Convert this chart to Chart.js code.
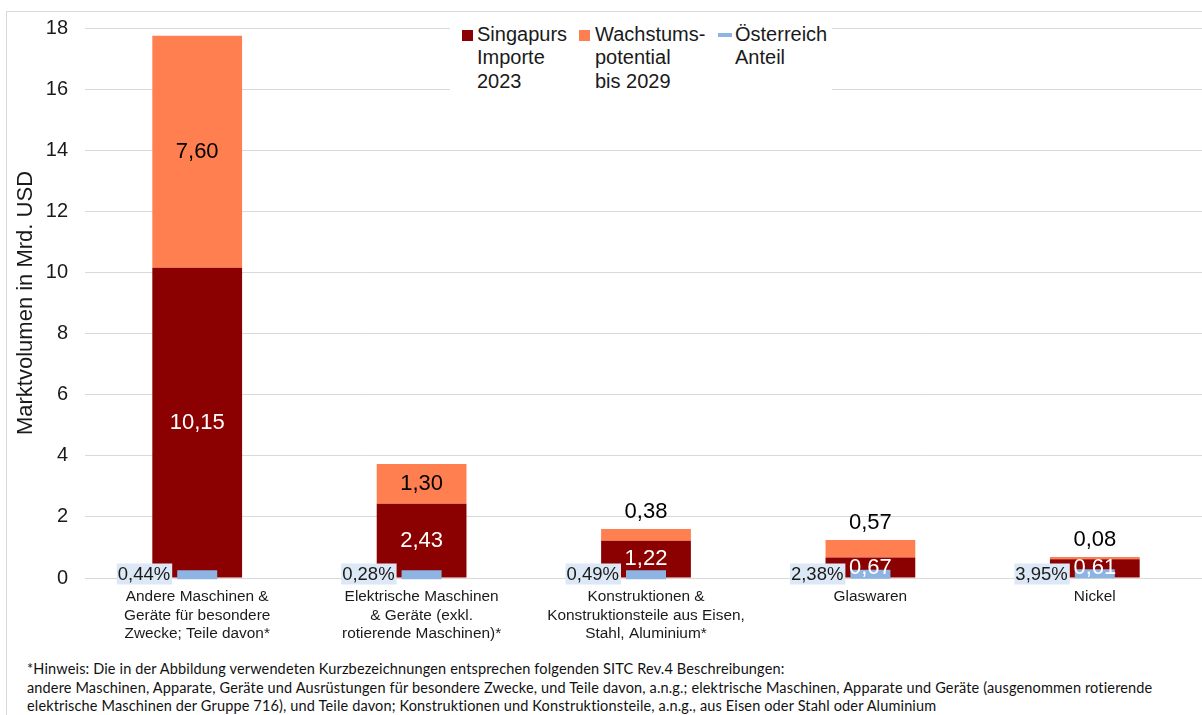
<!DOCTYPE html>
<html lang="de">
<head>
<meta charset="utf-8">
<title>Marktvolumen Singapur</title>
<script src="https://cdn.jsdelivr.net/npm/chart.js@4.4.1/dist/chart.umd.min.js"></script>
<style>
  html, body { margin: 0; padding: 0; background: #fff; overflow: hidden; }
  body { width: 1202px; height: 715px; position: relative; font-family: "Liberation Sans", Arial, sans-serif; color: #1a1a1a; }
  #frame { position: absolute; left: 6px; top: 11px; width: 1300px; height: 800px; border-left: 1px solid #d9d9d9; border-top: 1px solid #d9d9d9; }
  /* Canvas etwas breiter: die Linien-Marker (Radius 20) reservieren Rand */
  #marketChart { position: absolute; left: 0; top: -1px; width: 1236px; height: 656px; }
  #legend { position: absolute; left: 450px; top: 18px; width: 382px; height: 79px; background: #fff; }
  .lg-item { position: absolute; top: 5px; font-size: 20px; line-height: 23.3px; white-space: nowrap; }
  .lg-mark { position: absolute; }
  #note { position: absolute; left: 27px; top: 660px; font-family: Lato, "Open Sans", sans-serif; font-size: 14.5px; letter-spacing: 0.15px; line-height: 18.5px; color: #111; white-space: nowrap; }
</style>
</head>
<body>
<div id="frame"></div>
<canvas id="marketChart" width="1236" height="656"></canvas>
<div id="legend"></div>
<div id="note">
  *Hinweis: Die in der Abbildung verwendeten Kurzbezeichnungen entsprechen folgenden SITC Rev.4 Beschreibungen:<br>
  andere Maschinen, Apparate, Geräte und Ausrüstungen für besondere Zwecke, und Teile davon, a.n.g.; elektrische Maschinen, Apparate und Geräte (ausgenommen rotierende<br>
  elektrische Maschinen der Gruppe 716), und Teile davon; Konstruktionen und Konstruktionsteile, a.n.g., aus Eisen oder Stahl oder Aluminium
</div>
<script>
// Daten (Mrd. USD)
const categories = [
  ["Andere Maschinen &", "Geräte für besondere", "Zwecke; Teile davon*"],
  ["Elektrische Maschinen", "& Geräte (exkl.", "rotierende Maschinen)*"],
  ["Konstruktionen &", "Konstruktionsteile aus Eisen,", "Stahl, Aluminium*"],
  "Glaswaren",
  "Nickel",
];
const importe2023 = [10.15, 2.43, 1.22, 0.67, 0.61];
const wachstum2029 = [7.60, 1.30, 0.38, 0.57, 0.08];
const anteilAT = [0.0044, 0.0028, 0.0049, 0.0238, 0.0395];
const yTicks = [0, 2, 4, 6, 8, 10, 12, 14, 16, 18];

const colors = {
  importe: "#8b0000",
  wachstum: "#ff7f50",
  at: "#8db4e2",
  atLabelBg: "#dce8f5",
  grid: "#d9d9d9",
  text: "#1a1a1a",
};
const fontFamily = '"Liberation Sans", Arial, sans-serif';

const fmt = v => v.toFixed(2).replace(".", ",");
const pct = v => (v * 100).toFixed(2).replace(".", ",") + "%";

// Beschriftungen der Balken + Prozentwerte
const valueLabels = {
  id: "valueLabels",
  afterDatasetsDraw(chart) {
    const ctx = chart.ctx;
    ctx.save();
    ctx.textAlign = "center";
    ctx.textBaseline = "middle";
    ctx.font = "22px " + fontFamily;

    chart.getDatasetMeta(0).data.forEach((bar, i) => {
      ctx.fillStyle = "#ffffff";
      ctx.fillText(fmt(importe2023[i]), bar.x, (bar.y + bar.base) / 2);
    });

    chart.getDatasetMeta(1).data.forEach((bar, i) => {
      const h = bar.base - bar.y;
      // kleine Segmente: Wert über dem Balken
      const y = h > 30 ? (bar.y + bar.base) / 2 : bar.y - 17;
      ctx.fillStyle = "#000000";
      ctx.fillText(fmt(wachstum2029[i]), bar.x, y);
    });

    ctx.font = "18.5px " + fontFamily;
    ctx.textAlign = "right";
    chart.getDatasetMeta(2).data.forEach((pt, i) => {
      const text = pct(anteilAT[i]);
      const w = ctx.measureText(text).width;
      const right = pt.x - 27;
      const cy = chart.chartArea.bottom - 4;
      ctx.fillStyle = colors.atLabelBg;
      ctx.fillRect(right - w - 1, cy - 10.5, w + 3, 21);
      ctx.fillStyle = colors.text;
      ctx.fillText(text, right, cy + 1);
    });
    ctx.restore();
  },
};

const datasets = [
  {
    type: "bar",
    label: "Singapurs Importe 2023",
    legendText: ["Singapurs", "Importe", "2023"],
    data: importe2023,
    backgroundColor: colors.importe,
    stack: "main",
    order: 1,
    barPercentage: 0.4,
    categoryPercentage: 1,
  },
  {
    type: "bar",
    label: "Wachstumspotential bis 2029",
    legendText: ["Wachstums-", "potential", "bis 2029"],
    data: wachstum2029,
    backgroundColor: colors.wachstum,
    stack: "main",
    order: 1,
    barPercentage: 0.4,
    categoryPercentage: 1,
  },
  {
    type: "line",
    label: "Österreich Anteil",
    legendText: ["Österreich", "Anteil"],
    data: anteilAT,
    yAxisID: "y2",
    order: 0,
    clip: false,
    showLine: false,
    pointStyle: "line",
    pointRadius: 20,
    pointHoverRadius: 20,
    pointBorderWidth: 9,
    borderColor: colors.at,
    backgroundColor: colors.at,
  },
];

new Chart(document.getElementById("marketChart"), {
  data: { labels: categories, datasets },
  options: {
    responsive: false,
    animation: false,
    devicePixelRatio: 1,
    layout: { padding: { top: 28, right: 0, bottom: 0, left: 0 } },
    plugins: {
      legend: { display: false },
      tooltip: { enabled: false },
    },
    scales: {
      x: {
        stacked: true,
        grid: { display: false },
        border: { display: false },
        ticks: {
          color: colors.text,
          font: { family: fontFamily, size: 15.4 },
          padding: 2,
          maxRotation: 0,
          autoSkip: false,
        },
        afterFit: scale => { scale.height = 77; },
      },
      y: {
        stacked: true,
        min: 0,
        max: 18,
        afterBuildTicks: scale => { scale.ticks = yTicks.map(v => ({ value: v })); },
        grid: { color: colors.grid, lineWidth: 1, drawTicks: false },
        border: { display: false },
        ticks: {
          color: colors.text,
          font: { family: fontFamily, size: 20 },
          padding: 17,
        },
        title: {
          display: true,
          text: "Marktvolumen in Mrd. USD",
          color: colors.text,
          font: { family: fontFamily, size: 22 },
          padding: { top: 13, bottom: 0 },
        },
        afterFit: scale => { scale.width = 85; },
      },
      // Sekundärachse für den Österreich-Anteil (ausgeblendet)
      y2: {
        display: false,
        min: -0.1,
        max: 17.9,
      },
    },
  },
  plugins: [valueLabels],
});

// Legende (HTML)
const legendEl = document.getElementById("legend");
const legendPos = [
  { text: 27, mark: { left: 12, top: 12, width: 11, height: 11 } },
  { text: 145, mark: { left: 129, top: 12, width: 11, height: 11 } },
  { text: 285, mark: { left: 268, top: 15, width: 14, height: 4 } },
];
datasets.forEach((ds, i) => {
  const p = legendPos[i];
  const mark = document.createElement("div");
  mark.className = "lg-mark";
  Object.assign(mark.style, {
    left: p.mark.left + "px",
    top: p.mark.top + "px",
    width: p.mark.width + "px",
    height: p.mark.height + "px",
    background: ds.backgroundColor,
  });
  legendEl.appendChild(mark);
  const item = document.createElement("div");
  item.className = "lg-item";
  item.style.left = p.text + "px";
  item.innerHTML = ds.legendText.join("<br>");
  legendEl.appendChild(item);
});
</script>
</body>
</html>
